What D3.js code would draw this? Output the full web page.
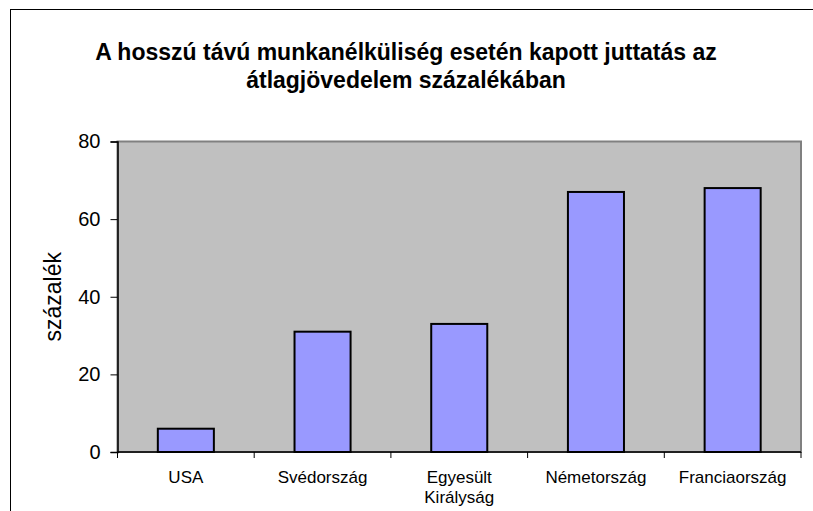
<!DOCTYPE html>
<html>
  <head>
    <meta charset="utf-8">
    <title>Munkanélküliségi juttatás</title>
    <script src="https://d3js.org/d3.v7.min.js"></script>
    <style>
      body { margin: 0; background: white; }
      text { font-family: "Liberation Sans", Arial, sans-serif; fill: black; }
    </style>
  </head>
  <body>
    <svg id="chart" width="813" height="511"></svg>
    <script>
      // data
      countries = ["USA", "Svédország", "Egyesült Királyság", "Németország", "Franciaország"];
      countryLines = [["USA"], ["Svédország"], ["Egyesült", "Királyság"], ["Németország"], ["Franciaország"]];
      benefit = [6, 31, 33, 67, 68];
      yTicks = [0, 20, 40, 60, 80];
      titleLines = ["A hosszú távú munkanélküliség esetén kapott juttatás az", "átlagjövedelem százalékában"];

      svg = d3.select("#chart");
      plot = { left: 117.5, top: 141.5, right: 801, bottom: 452 };

      x = d3.scaleBand()
        .domain(countries)
        .range([plot.left, plot.right]);
      y = d3.scaleLinear()
        .domain([0, 80])
        .range([plot.bottom, plot.top]);

      // outer frame
      svg.append("rect")
        .attr("x", 10.5).attr("y", 9.5)
        .attr("width", 830).attr("height", 540)
        .attr("fill", "white")
        .attr("stroke", "black")
        .attr("stroke-width", 1);

      // title
      svg.append("text")
        .attr("x", 406)
        .attr("y", 60)
        .attr("text-anchor", "middle")
        .style("font-weight", "bold")
        .style("font-size", "23px")
        .selectAll("tspan")
          .data(titleLines)
        .enter().append("tspan")
          .attr("x", 406)
          .attr("dy", function(d, i) { return i ? 28 : 0; })
          .text(function(d) { return d; });

      // plot area
      svg.append("rect")
        .attr("x", plot.left).attr("y", plot.top)
        .attr("width", plot.right - plot.left)
        .attr("height", plot.bottom - plot.top)
        .attr("fill", "#C0C0C0")
        .attr("stroke", "#808080")
        .attr("stroke-width", 2);

      // bars
      bw = x.bandwidth() * 0.41;
      svg.selectAll(".bar")
          .data(benefit)
        .enter().append("rect")
          .classed("bar", true)
          .attr("x", function(d, i) { return x(countries[i]) + x.bandwidth() / 2 - bw / 2; })
          .attr("y", function(d) { return y(d); })
          .attr("width", bw)
          .attr("height", function(d) { return y(0) - y(d); })
          .attr("fill", "#9999FF")
          .attr("stroke", "black")
          .attr("stroke-width", 2);

      // y axis
      yAxis = svg.append("g")
        .attr("transform", "translate(" + plot.left + ",0)")
        .call(d3.axisLeft(y).tickValues(yTicks).tickSize(7).tickPadding(10));
      yAxis.select(".domain").attr("stroke", "black").attr("stroke-width", 1.5);
      yAxis.selectAll("text")
        .style("font-size", "20px")
        .style("font-family", "'Liberation Sans', Arial, sans-serif");

      // x axis
      xAxis = svg.append("g")
        .attr("transform", "translate(0," + plot.bottom + ")");
      xAxis.append("line")
        .attr("x1", plot.left).attr("x2", plot.right)
        .attr("stroke", "black").attr("stroke-width", 1.5);
      xAxis.selectAll(".xtick")
          .data(countries.concat([null]))
        .enter().append("line")
          .attr("x1", function(d) { return d ? x(d) : plot.right; })
          .attr("x2", function(d) { return d ? x(d) : plot.right; })
          .attr("y1", 0).attr("y2", 6)
          .attr("stroke", "black");
      xLabels = xAxis.selectAll(".xlabel")
          .data(countries)
        .enter().append("text")
          .classed("xlabel", true)
          .attr("text-anchor", "middle")
          .attr("y", 31)
          .style("font-size", "17px");
      xLabels.selectAll("tspan")
          .data(function(d, i) { return countryLines[i]; })
        .enter().append("tspan")
          .attr("x", function() { return x(d3.select(this.parentNode).datum()) + x.bandwidth() / 2; })
          .attr("dy", function(d, i) { return i ? 20 : 0; })
          .text(function(d) { return d; });

      // y title
      svg.append("text")
        .attr("transform", "translate(61,252) rotate(-90)")
        .attr("text-anchor", "end")
        .style("font-size", "23px")
        .text("százalék");
    </script>
  </body>
</html>
